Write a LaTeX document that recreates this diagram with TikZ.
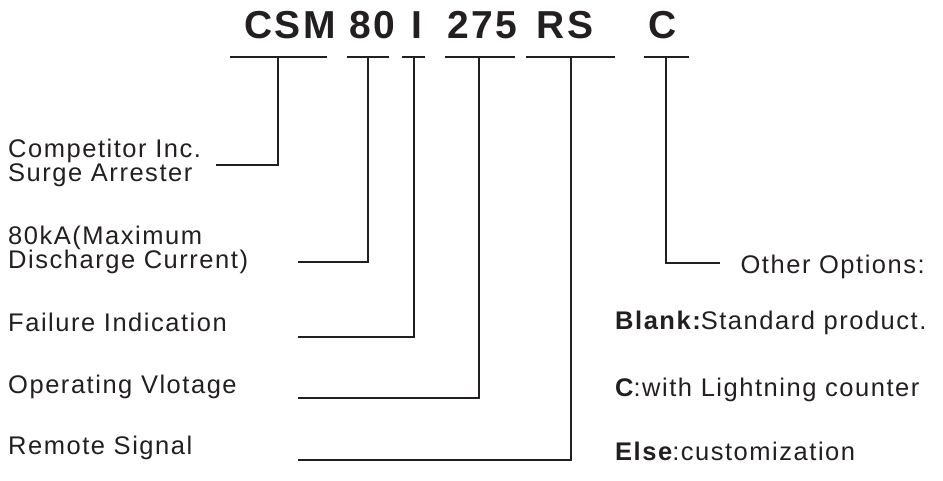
\documentclass[tikz,border=0pt]{standalone}
\usepackage{fontspec}
\setmainfont{Liberation Sans}
\newfontfamily\lblfont[LetterSpace=6]{Liberation Sans}
\newfontfamily\ttlfont[LetterSpace=6]{Liberation Sans}
\definecolor{ink}{HTML}{231F20}
\begin{document}
\begin{tikzpicture}[x=1pt,y=-1pt,
  lbl/.style={inner sep=0pt,anchor=base west,text=ink,font=\lblfont\fontsize{25.5}{28}\selectfont},
  ttl/.style={inner sep=0pt,anchor=base,text=ink,font=\ttlfont\bfseries\fontsize{39}{42}\selectfont},
  wire/.style={draw=ink,line width=1.3pt}]
\useasboundingbox (0,0) rectangle (943,481);
% title
\node[ttl] (t1) at (290,39) {CSM};
\node[ttl] (t2) at (372,39) {80};
\node[ttl] (t3) at (417,39) {I};
\node[ttl] (t4) at (482,39) {275};
\node[ttl] (t5) at (565,39) {RS};
\node[ttl] (t6) at (663,39) {C};
% underline coordinates
\coordinate (u1l) at (230,57); \coordinate (u1r) at (327,57); \coordinate (u1t) at (278,57);
\coordinate (u2l) at (347,57); \coordinate (u2r) at (389,57); \coordinate (u2t) at (368,57);
\coordinate (u3l) at (402,57); \coordinate (u3r) at (425,57); \coordinate (u3t) at (414,57);
\coordinate (u4l) at (445,57); \coordinate (u4r) at (515,57); \coordinate (u4t) at (479,57);
\coordinate (u5l) at (526,57); \coordinate (u5r) at (615,57); \coordinate (u5t) at (571,57);
\coordinate (u6l) at (644,57); \coordinate (u6r) at (689,57); \coordinate (u6t) at (666,57);
% left labels
\node[lbl] (a1) at (8,158) {Competitor Inc.};
\node[lbl] (a1b) at (8,182) {Surge Arrester};
\node[lbl] (a2) at (8,245) {80kA(Maximum};
\node[lbl] (a2b) at (8,269) {Discharge Current)};
\node[lbl] (a3) at (8,331) {Failure Indication};
\node[lbl] (a4) at (8,393) {Operating Vlotage};
\node[lbl] (a5) at (8,454) {Remote Signal};
% right labels
\node[lbl,anchor=base east] (o1) at (925,273) {Other Options:};
\node[lbl] (o2) at (615,330) {{\bfseries Blank:}Standard product.};
\node[lbl] (o3) at (615,396) {{\bfseries C}:with Lightning counter};
\node[lbl] (o4) at (615,460) {{\bfseries Else}:customization};
% connector ends
\coordinate (e1) at (216,165);
\coordinate (e2) at (298,262);
\coordinate (e3) at (298,337);
\coordinate (e4) at (298,398);
\coordinate (e5) at (298,460);
\coordinate (e6) at (720,263);
% wires
\foreach \i in {1,...,6}{
  \draw[wire] (u\i l) -- (u\i r);
  \draw[wire] (u\i t) |- (e\i);
}
\end{tikzpicture}
\end{document}
